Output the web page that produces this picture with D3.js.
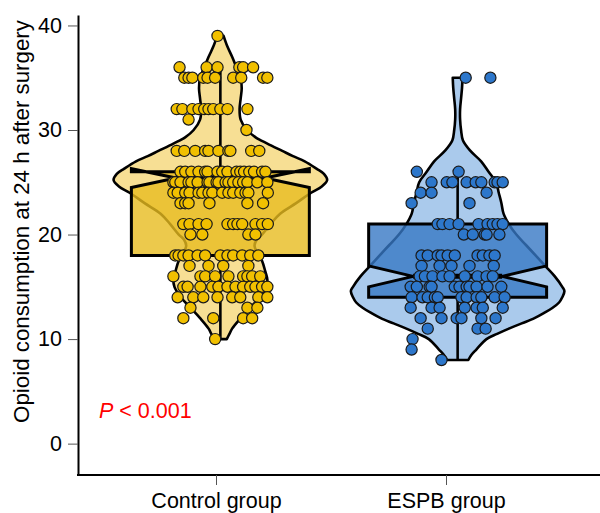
<!DOCTYPE html>
<html><head><meta charset="utf-8">
<script src="https://cdn.jsdelivr.net/npm/d3@7"></script>
<style>body{margin:0;background:#fff}svg{display:block;font-family:"Liberation Sans",Arial,sans-serif}</style>
</head><body><svg id="c" width="600" height="513"></svg>
<script>
// ---------------- data ----------------
const categories = ["Control group", "ESPB group"];
const yTicks = [0, 10, 20, 30, 40];
const yTitle = "Opioid consumption at 24 h after surgery";
const pText = ["P", " < 0.001"];

// box statistics (per category)
const q1 = [18, 14];
const medians = [25.4, 16];
const q3 = [26, 21];
const notchLo = [24.5, 15];
const notchHi = [26.3, 17];
const whiskerLo = [10, 8];
const whiskerHi = [36, 26];

// violin profiles: [value, relative density (1 = widest)]
const controlViolin = [[10,.06],[10.5,.085],[11,.11],[12,.19],[13,.28],[14,.37],[15,.43],[15.7,.44],[16.5,.42],[17.5,.39],[18.2,.35],[18.9,.32],[19.5,.34],[20,.39],[21,.47],[22,.56],[23,.71],[24,.85],[24.6,.95],[25.2,1],[25.8,.97],[26.3,.9],[27,.79],[27.5,.68],[28,.58],[28.7,.44],[29.3,.33],[30,.25],[31,.19],[32,.18],[33,.19],[34,.2],[35,.19],[36,.15],[37,.11],[38,.065],[39,.03]];
const espbViolin = [[8,.1],[8.5,.13],[9,.175],[10,.27],[10.5,.37],[11,.48],[11.5,.6],[12,.72],[12.5,.81],[13,.89],[13.5,.95],[14,.98],[14.6,1],[15,.98],[16,.91],[17,.82],[18,.73],[19,.64],[20,.55],[21,.48],[22,.43],[23,.41],[24,.385],[25,.36],[26,.29],[27,.22],[28,.12],[29,.05],[30,.032],[31,.023],[32,.023],[33,.032],[34,.041],[35,.046]];

// individual observations: [value, [jitter offsets in % of jitter width]]
const controlDots = [
 [39,[-6]],
 [36,[-86,-29,-6,40,48,69]],
 [35,[-76,-67,-59,-36,-27,-11,27,44,90,99]],
 [32,[-92,-80,-59,-46,-34,-25,-15,0,15,57]],
 [31,[-67]],
 [30,[55]],
 [28,[-92,-76,-53,-32,-25,-4,17,21,65,82]],
 [26,[-84,-74,-61,-46,-32,-27,-6,4,15,34,42,50,61,71,88,95]],
 [25,[-99,-95,-84,-67,-61,-48,-27,-23,-8,-4,11,17,27,38,48,57,78,99]],
 [24,[-99,-90,-74,-65,-46,-38,-25,-17,4,17,27,42,53,59,100]],
 [23,[-84,-74,-67,-23,57,90]],
 [21,[-78,-65,-46,-29,15,27,36,46,74,88,100]],
 [20,[-63,-38,59,74]],
 [18,[-95,-88,-78,-67,-48,-32,0,15,27,46,63,80]],
 [17,[-65,-25,6,59]],
 [16,[-99,-42,-32,-11,17,48,57,67,84]],
 [15,[-78,-69,-42,-17,-4,15,32,48,63,74,88,99]],
 [14,[-90,-57,-36,-6,25,42,80,99]],
 [13,[-63,57,78]],
 [12,[-78,-15,48,67]],
 [10,[-11]]
];
const espbDots = [
 [35,[17,69]],
 [26,[-86,2]],
 [25,[-55,-23,-11,19,38,50,78,84,95]],
 [24,[-78,-55,61]],
 [23,[-97,25]],
 [21,[-42,-32,-17,2,44,63,74,84,95]],
 [20,[13,32,57,61,88]],
 [18,[-76,-63,-42,-34,-21,-6,42,53,67,78]],
 [17,[-76,-38,-13,25,76]],
 [16,[-80,-69,-53,-32,-17,15,42,61,74]],
 [15,[-99,-86,-59,-55,-6,4,19,25,40,63,92]],
 [14,[-97,-74,-63,-48,-42,8,19,40,50,78,99]],
 [13,[-99,-55,-38,15,40,53,95]],
 [12,[-78,-34,-2,8,50,80]],
 [11,[-63,42,59]],
 [10,[-95]],
 [9,[-97]],
 [8,[-34]]
];

// ---------------- styles ----------------
const violinFill = ["#F7DF94", "#AACAEC"];
const boxFill = ["#E7BC1F", "#3778C4"];
const dotFill = ["#F1C000", "#2D77CB"];
const fontSize = 21.5;

// ---------------- chart ----------------
const svg = d3.select("#c");
const mLeft = 78, mRight = 600, mTop = 15, mBottom = 475;

const y = d3.scaleLinear().domain([-3, 41]).range([mBottom, mTop]);
const xm = d3.scaleLinear().domain([0.4, 2.6]).range([mLeft, mRight]);
const unit = xm(1) - xm(0);
const xAxisScale = d3.scalePoint().domain(categories).range([216, 446]);

const violinHalf = d3.scaleLinear().domain([0, 1]).range([0, 0.45 * unit]);
const boxHalf = 0.375 * unit;
const jitterHalf = 0.2 * unit;

const violins = [controlViolin, espbViolin];
const dotsets = [controlDots, espbDots];

categories.forEach((cat, i) => {
  const cx = xm(i + 1);
  const g = svg.append("g");
  const area = d3.area()
    .y(d => y(d[0]))
    .x0(d => cx - violinHalf(d[1]))
    .x1(d => cx + violinHalf(d[1]))
    .curve(d3.curveCatmullRom);
  g.append("path").attr("d", area(violins[i]))
    .attr("fill", violinFill[i]).attr("stroke", "#000").attr("stroke-width", 2.6)
    .attr("stroke-linejoin", "round");
  const L = cx - boxHalf, R = cx + boxHalf, nl = cx - boxHalf / 2, nr = cx + boxHalf / 2;
  // ggplot-style notched box polygon
  const pts = [
    [L, y(q3[i])], [L, y(notchHi[i])], [nl, y(medians[i])], [L, y(notchLo[i])], [L, y(q1[i])],
    [R, y(q1[i])], [R, y(notchLo[i])], [nr, y(medians[i])], [R, y(notchHi[i])], [R, y(q3[i])]
  ];
  g.append("path").attr("d", d3.line()(pts) + "Z")
    .attr("fill", boxFill[i]).attr("fill-opacity", 0.8)
    .attr("stroke", "#000").attr("stroke-width", 3).attr("stroke-linejoin", "miter");
  g.append("line").attr("x1", cx).attr("x2", cx).attr("y1", y(q3[i])).attr("y2", y(whiskerHi[i]))
    .attr("stroke", "#000").attr("stroke-width", 2.6);
  g.append("line").attr("x1", cx).attr("x2", cx).attr("y1", y(q1[i])).attr("y2", y(whiskerLo[i]))
    .attr("stroke", "#000").attr("stroke-width", 2.6);
  g.append("line").attr("x1", nl).attr("x2", nr).attr("y1", y(medians[i])).attr("y2", y(medians[i]))
    .attr("stroke", "#000").attr("stroke-width", 5);
  const pts2 = [];
  dotsets[i].forEach(([v, offs]) => offs.forEach(o => pts2.push({v, o})));
  g.selectAll("circle").data(pts2).join("circle")
    .attr("cx", d => cx + d.o / 100 * jitterHalf)
    .attr("cy", d => y(d.v))
    .attr("r", 5.6)
    .attr("fill", dotFill[i]).attr("stroke", "#1a1a1a").attr("stroke-width", 1.2);
});

// y axis
const yAxis = svg.append("g").attr("transform", `translate(${mLeft},0)`)
  .call(d3.axisLeft(y).tickValues(yTicks).tickSize(10).tickSizeOuter(0).tickPadding(6));
yAxis.select(".domain").attr("stroke", "#000").attr("stroke-width", 2);
yAxis.selectAll(".tick line").attr("stroke", "#555").attr("stroke-width", 1);
yAxis.selectAll(".tick text").attr("font-size", fontSize).attr("fill", "#000")
  .attr("font-family", '"Liberation Sans",Arial,sans-serif');

// x axis
svg.append("line").attr("x1", mLeft - 1).attr("x2", mRight).attr("y1", mBottom).attr("y2", mBottom)
  .attr("stroke", "#000").attr("stroke-width", 2);
const xAxis = svg.append("g").attr("transform", `translate(0,${mBottom})`)
  .call(d3.axisBottom(xAxisScale).tickSize(10).tickSizeOuter(0).tickPadding(8));
xAxis.select(".domain").remove();
xAxis.selectAll(".tick line").attr("stroke", "#555").attr("stroke-width", 1);
xAxis.selectAll(".tick text").attr("font-size", fontSize).attr("fill", "#000")
  .attr("font-family", '"Liberation Sans",Arial,sans-serif');

// y title
svg.append("text").attr("transform", `translate(28.5,${(mTop + mBottom) / 2 - 23.5}) rotate(-90)`)
  .attr("text-anchor", "middle").attr("font-size", 22.3).attr("fill", "#000").text(yTitle);

// p value
const pt = svg.append("text").attr("x", 99).attr("y", 418).attr("font-size", fontSize).attr("fill", "#FF0000");
pt.append("tspan").attr("font-style", "italic").text(pText[0]);
pt.append("tspan").text(pText[1]);
</script></body></html>
